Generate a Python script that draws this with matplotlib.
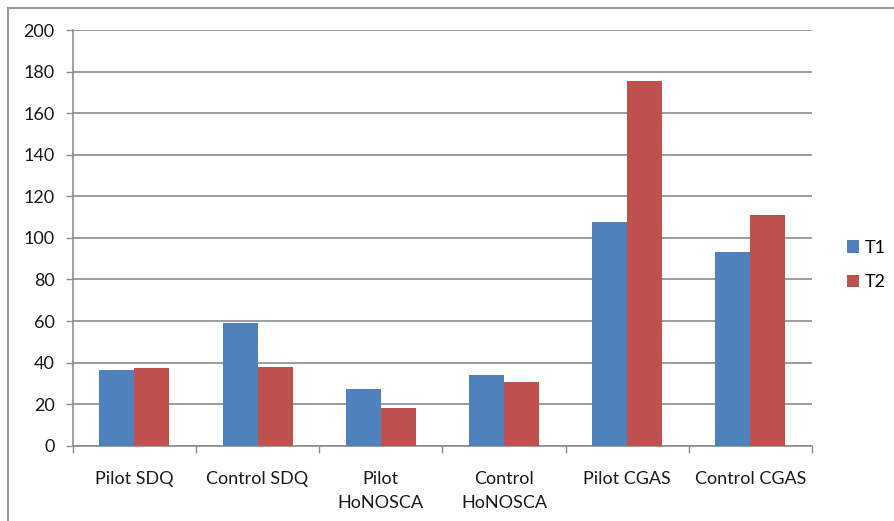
import numpy as np
import matplotlib
matplotlib.use('Agg')
import matplotlib.pyplot as plt
from matplotlib.lines import Line2D

categories = ['Pilot SDQ', 'Control SDQ', 'Pilot\nHoNOSCA', 'Control\nHoNOSCA', 'Pilot CGAS', 'Control CGAS']
t1 = [36.4, 58.9, 27.4, 33.9, 107.8, 93.1]
t2 = [37.2, 37.9, 18.1, 30.7, 175.5, 110.9]
series_names = ['T1', 'T2']
y_ticks = [0, 20, 40, 60, 80, 100, 120, 140, 160, 180, 200]

BLUE = '#4F81BD'
RED = '#C0504D'
GRID = '#8c8c8c'

plt.rcParams['font.family'] = ['Lato', 'DejaVu Sans']

fig = plt.figure(figsize=(8.95, 5.21), dpi=100)
ax = fig.add_axes([0.0812, 0.1445, 0.8261, 0.7979])

x = np.arange(len(categories))
w = 0.284
ax.bar(x - w / 2, t1, w, color=BLUE, label=series_names[0], zorder=3)
ax.bar(x + w / 2, t2, w, color=RED, label=series_names[1], zorder=3)

ax.set_xlim(-0.5, len(categories) - 0.5)
ax.set_ylim(0, 200)
ax.set_yticks(y_ticks)
ax.yaxis.grid(True, color=GRID, linewidth=1.2, zorder=0)
ax.set_axisbelow(True)

# category labels in the middle, tick marks between groups
ax.set_xticks(x)
ax.set_xticklabels(categories, fontsize=13, color='#1a1a1a', linespacing=1.6)
ax.tick_params(axis='x', length=0, pad=18)
ax.set_xticks(np.arange(-0.5, len(categories)), minor=True)
ax.tick_params(axis='x', which='minor', length=5, width=1, color=GRID, direction='out')
ax.tick_params(axis='y', length=5, width=1, color=GRID, direction='out', pad=8,
               labelsize=13, labelcolor='#1a1a1a')

for side in ['top', 'right']:
    ax.spines[side].set_visible(False)
for side in ['left', 'bottom']:
    ax.spines[side].set_color(GRID)
    ax.spines[side].set_linewidth(1.2)

leg = ax.legend(loc='center left', bbox_to_anchor=(1.025, 0.435), frameon=False,
                fontsize=13, handlelength=0.65, handleheight=0.65,
                handletextpad=0.35, labelspacing=1.0)

# outer chart border (clipped by the image edges on the right and bottom)
fig.add_artist(Line2D([8 / 895, 8 / 895], [0, 1 - 7.5 / 521], transform=fig.transFigure,
                      color='#9a9a9a', linewidth=1.5))
fig.add_artist(Line2D([8 / 895, 1], [1 - 7.5 / 521, 1 - 7.5 / 521], transform=fig.transFigure,
                      color='#9a9a9a', linewidth=1.5))

fig.savefig('out.png', dpi=100)
